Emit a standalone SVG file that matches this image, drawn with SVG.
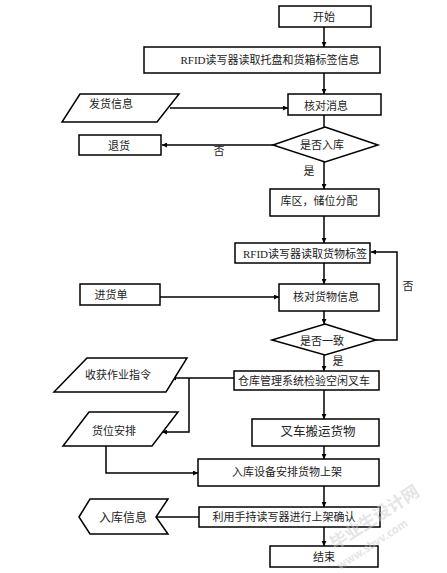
<svg xmlns="http://www.w3.org/2000/svg" width="447" height="573" viewBox="0 0 447 573">
<defs>
<marker id="ah" viewBox="0 0 10 10" refX="10" refY="5" markerWidth="5" markerHeight="5" orient="auto" markerUnits="userSpaceOnUse">
<path d="M0,0 L10,5 L0,10 z" fill="#000"/>
</marker>
<style>
.s{fill:#fff;stroke:#000;stroke-width:1.5}
.t{font-family:"Liberation Serif","Noto Sans CJK SC",serif;font-size:11px;fill:#222;text-anchor:middle;dominant-baseline:central}
.c{fill:none;stroke:#000;stroke-width:1.5;marker-end:url(#ah)}
.p{fill:none;stroke:#000;stroke-width:1.5}
.w{font-family:"Noto Sans CJK SC",sans-serif;fill:#ccc;opacity:0.5;font-weight:bold}
</style>
</defs>
<rect width="447" height="573" fill="#fff"/>
<g id="connectors">
<path class="c" d="M324,27 V47"/>
<path class="c" d="M324,73 V94"/>
<path class="c" d="M170,108 H288"/>
<path class="p" d="M324,115 V127"/>
<path class="c" d="M273,145 H162"/>
<path class="c" d="M324,162 V189"/>
<path class="c" d="M324,216 V243"/>
<path class="c" d="M324,263 V284"/>
<path class="c" d="M160,297 H279"/>
<path class="c" d="M324,311 V324"/>
<path class="c" d="M376,340 H397 V252 H371"/>
<path class="c" d="M324,355 V371"/>
<path class="c" d="M234,378 H171"/>
<path class="c" d="M189,378 V432 H162"/>
<path class="c" d="M324,390 V419"/>
<path class="c" d="M324,446 V459"/>
<path class="c" d="M106,446 V473 H198"/>
<path class="c" d="M324,486 V507"/>
<path class="p" d="M199,517 H156"/>
<path class="c" d="M324,527 V546"/>
<text class="t" x="219" y="151">否</text>
<text class="t" x="309" y="171">是</text>
<text class="t" x="408" y="286">否</text>
<text class="t" x="338" y="361">是</text>
</g>
<g id="start"><rect class="s" x="279" y="6" width="92" height="21"/><text class="t" x="324" y="17">开始</text></g>
<g id="rfid1"><rect class="s" x="144" y="47" width="236" height="26"/><text class="t" x="270" y="60">RFID读写器读取托盘和货箱标签信息</text></g>
<g id="fahuo"><polygon class="s" points="80,94 179,94 157,122 62,122"/><text class="t" x="111" y="104">发货信息</text></g>
<g id="hedui1"><rect class="s" x="288" y="94" width="93" height="21"/><text class="t" x="326" y="106">核对消息</text></g>
<g id="ruku"><polygon class="s" points="325,127 378,145 325,162 273,145"/><text class="t" x="322" y="145">是否入库</text></g>
<g id="tuihuo"><rect class="s" x="79" y="135" width="82" height="20"/><text class="t" x="119" y="146">退货</text></g>
<g id="kuqu"><rect class="s" x="270" y="189" width="109" height="27"/><text class="t" x="319" y="201">库区，储位分配</text></g>
<g id="rfid2"><rect class="s" x="235" y="243" width="135" height="20"/><text class="t" x="305" y="254">RFID读写器读取货物标签</text></g>
<g id="jinhuo"><rect class="s" x="80" y="284" width="80" height="21"/><text class="t" x="111" y="295">进货单</text></g>
<g id="hedui2"><rect class="s" x="279" y="284" width="100" height="27"/><text class="t" x="326" y="297">核对货物信息</text></g>
<g id="yizhi"><polygon class="s" points="325,324 376,340 325,355 272,340"/><text class="t" x="322" y="341">是否一致</text></g>
<g id="cangku"><rect class="s" x="234" y="371" width="145" height="19"/><text class="t" x="304" y="381">仓库管理系统检验空闲叉车</text></g>
<g id="shouhuo"><polygon class="s" points="87,358 187,358 166,392 54,392"/><text class="t" x="118" y="375">收获作业指令</text></g>
<g id="huowei"><polygon class="s" points="89,412 178,412 152,446 63,446"/><text class="t" x="114" y="431">货位安排</text></g>
<g id="chache"><rect class="s" x="252" y="419" width="127" height="27"/><text class="t" x="318" y="432" style="font-size:12.5px">叉车搬运货物</text></g>
<g id="shangjia"><rect class="s" x="198" y="459" width="181" height="27"/><text class="t" x="287" y="472">入库设备安排货物上架</text></g>
<g id="queren"><rect class="s" x="199" y="507" width="181" height="20"/><text class="t" x="284" y="517">利用手持读写器进行上架确认</text></g>
<g id="rukuxinxi"><polygon class="s" points="79,517 90,499 168,499 156,517 168,534 90,534"/><text class="t" x="123" y="518" style="font-size:12px">入库信息</text></g>
<g id="end"><rect class="s" x="270" y="546" width="108" height="21"/><text class="t" x="324" y="557">结束</text></g>
<g id="watermark">
<text class="w" x="0" y="0" font-size="17" transform="translate(335,550) rotate(-33)">毕业生设计网</text>
<text class="w" x="0" y="0" font-size="11" transform="translate(340,570) rotate(-33)">www.sbvv.com</text>
</g>
</svg>
